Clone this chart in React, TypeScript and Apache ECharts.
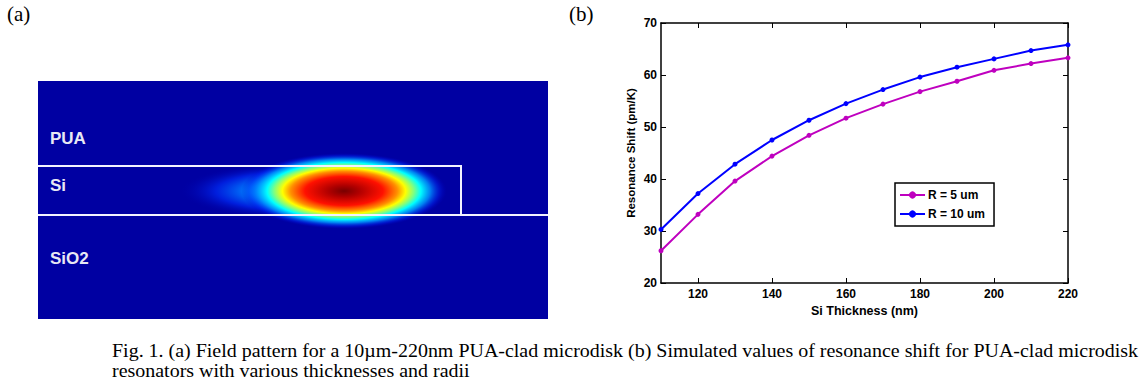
import React, { useEffect, useRef } from 'react';
import * as echarts from 'echarts';

// ---- data (panel b) ----
const thickness = [110, 120, 130, 140, 150, 160, 170, 180, 190, 200, 210, 220];
const shiftR5 = [26.2, 33.2, 39.6, 44.4, 48.4, 51.7, 54.4, 56.8, 58.8, 60.9, 62.2, 63.3];
const shiftR10 = [30.3, 37.2, 42.85, 47.5, 51.3, 54.5, 57.2, 59.6, 61.5, 63.1, 64.7, 65.8];
const xTickValues = [120, 140, 160, 180, 200, 220];
const seriesNames = ['R = 5 um', 'R = 10 um'];

// ---- texts ----
const layerLabels = ['PUA', 'Si', 'SiO2'];
const captionLine1 =
  'Fig. 1. (a) Field pattern for a 10\u00b5m-220nm PUA-clad microdisk (b) Simulated values of resonance shift for PUA-clad microdisk';
const captionLine2 = 'resonators with various thicknesses and radii';

export default function App() {
  const ref = useRef<HTMLDivElement>(null);

  useEffect(() => {
    const chart = echarts.init(ref.current!, undefined, { renderer: 'svg' });

    const bold = { fontFamily: 'Arial, "Liberation Sans", sans-serif', fontWeight: 'bold' as const, color: '#000' };

    const mainGlow = new echarts.graphic.RadialGradient(0.5, 0.5, 0.5, [
      { offset: 0, color: '#780000' },
      { offset: 0.15, color: '#b00000' },
      { offset: 0.38, color: '#ff1000' },
      { offset: 0.52, color: '#ff9000' },
      { offset: 0.6, color: '#ffff00' },
      { offset: 0.68, color: '#80ff80' },
      { offset: 0.75, color: '#00ffff' },
      { offset: 0.84, color: 'rgba(0,150,255,0.85)' },
      { offset: 0.93, color: 'rgba(0,40,245,0.45)' },
      { offset: 1, color: 'rgba(0,0,200,0)' },
    ]);
    const tailGlow = new echarts.graphic.RadialGradient(0.5, 0.5, 0.5, [
      { offset: 0, color: '#00c8ff' },
      { offset: 0.4, color: '#0088ff' },
      { offset: 0.7, color: 'rgba(0,40,240,0.75)' },
      { offset: 1, color: 'rgba(0,0,170,0)' },
    ]);

    const panelLeft = 38;
    const panelRight = 548;
    const panelTop = 81;
    const panelBottom = 319;
    const siTop = 166;
    const siBottom = 215;
    const siRight = 461;

    const graphic: any[] = [
      { type: 'text', left: 7, top: 3, style: { text: '(a)', font: '21px "Liberation Serif", "Times New Roman", serif', fill: '#000' } },
      { type: 'text', left: 569, top: 3, style: { text: '(b)', font: '21px "Liberation Serif", "Times New Roman", serif', fill: '#000' } },
      {
        type: 'rect',
        shape: { x: panelLeft, y: panelTop, width: panelRight - panelLeft, height: panelBottom - panelTop },
        style: { fill: '#0000a2' },
      },
      { type: 'circle', x: 298, y: 191, scaleX: 4.2, shape: { cx: 0, cy: 0, r: 28 }, style: { fill: tailGlow } },
      { type: 'circle', x: 344, y: 191, scaleX: 2.7, shape: { cx: 0, cy: 0, r: 38 }, style: { fill: mainGlow } },
      {
        type: 'polyline',
        shape: { points: [[panelLeft, siTop], [siRight, siTop], [siRight, siBottom]] },
        style: { stroke: '#f2f2ff', lineWidth: 2, fill: 'none' },
      },
      {
        type: 'line',
        shape: { x1: panelLeft, y1: siBottom, x2: panelRight, y2: siBottom },
        style: { stroke: '#f2f2ff', lineWidth: 2 },
      },
      {
        type: 'text', x: 50, y: 138,
        style: { text: layerLabels[0], font: 'bold 17px Arial, "Liberation Sans", sans-serif', fill: '#e8e8f4', textVerticalAlign: 'middle' },
      },
      {
        type: 'text', x: 50, y: 185,
        style: { text: layerLabels[1], font: 'bold 17px Arial, "Liberation Sans", sans-serif', fill: '#e8e8f4', textVerticalAlign: 'middle' },
      },
      {
        type: 'text', x: 50, y: 258,
        style: { text: layerLabels[2], font: 'bold 17px Arial, "Liberation Sans", sans-serif', fill: '#e8e8f4', textVerticalAlign: 'middle' },
      },
      {
        type: 'text', x: 112, y: 351, scaleX: 1.11,
        style: { text: captionLine1, font: '18px "Liberation Serif", "Times New Roman", serif', fill: '#000', textVerticalAlign: 'middle' },
      },
      {
        type: 'text', x: 112, y: 371, scaleX: 1.11,
        style: { text: captionLine2, font: '18px "Liberation Serif", "Times New Roman", serif', fill: '#000', textVerticalAlign: 'middle' },
      },
    ];

    const axisLine = { show: true, onZero: false, lineStyle: { color: '#000', width: 1.5 } };
    const tickStyle = { lineStyle: { color: '#000', width: 1 } };

    const option: any = {
      animation: false,
      backgroundColor: '#fff',
      graphic,
      grid: { left: 661, top: 23, width: 407, height: 260, containLabel: false },
      legend: {
        orient: 'vertical',
        left: 895,
        top: 183,
        backgroundColor: '#fff',
        borderColor: '#000',
        borderWidth: 1.5,
        borderRadius: 0,
        padding: [6, 9, 6, 4],
        itemGap: 7,
        itemWidth: 25,
        itemHeight: 9,
        textStyle: { ...bold, fontSize: 12, padding: [0, 0, 0, -2] },
        data: seriesNames,
      },
      xAxis: [
        {
          type: 'value', min: 110, max: 220, position: 'bottom',
          axisLine,
          axisTick: { show: true, inside: true, length: 5, customValues: xTickValues, ...tickStyle },
          axisLabel: { show: true, customValues: xTickValues, margin: 5, fontSize: 12, ...bold },
          splitLine: { show: false },
          name: 'Si Thickness (nm)', nameLocation: 'middle', nameGap: 21,
          nameTextStyle: { ...bold, fontSize: 12.5 },
        },
        {
          type: 'value', min: 110, max: 220, position: 'top',
          axisLine,
          axisTick: { show: true, inside: true, length: 5, customValues: xTickValues, ...tickStyle },
          axisLabel: { show: false },
          splitLine: { show: false },
        },
      ],
      yAxis: [
        {
          type: 'value', min: 20, max: 70, interval: 10, position: 'left',
          axisLine,
          axisTick: { show: true, inside: true, length: 5, ...tickStyle },
          axisLabel: { show: true, margin: 4, fontSize: 12, ...bold },
          splitLine: { show: false },
          name: 'Resonance Shift (pm/K)', nameLocation: 'middle', nameGap: 24,
          nameTextStyle: { ...bold, fontSize: 11.5 },
        },
        {
          type: 'value', min: 20, max: 70, interval: 10, position: 'right',
          axisLine,
          axisTick: { show: true, inside: true, length: 5, ...tickStyle },
          axisLabel: { show: false },
          splitLine: { show: false },
        },
      ],
      series: [
        {
          name: seriesNames[0], type: 'line', xAxisIndex: 0, yAxisIndex: 0,
          data: thickness.map((t, i) => [t, shiftR5[i]]),
          symbol: 'circle', symbolSize: 5, clip: false,
          lineStyle: { color: '#bf00bf', width: 2 },
          itemStyle: { color: '#bf00bf' },
        },
        {
          name: seriesNames[1], type: 'line', xAxisIndex: 0, yAxisIndex: 0,
          data: thickness.map((t, i) => [t, shiftR10[i]]),
          symbol: 'circle', symbolSize: 5, clip: false,
          lineStyle: { color: '#0000ff', width: 2 },
          itemStyle: { color: '#0000ff' },
        },
      ],
    };

    chart.setOption(option);
    return () => chart.dispose();
  }, []);

  return (
    <div
      ref={ref}
      style={{ position: 'fixed', left: 0, top: 0, width: 1143, height: 389, background: '#fff' }}
    />
  );
}
